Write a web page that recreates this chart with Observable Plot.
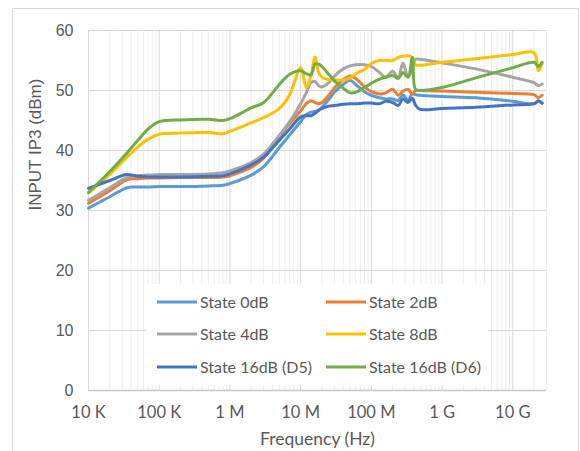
<!DOCTYPE html>
<html>
<head>
<meta charset="utf-8">
<script src="https://cdn.jsdelivr.net/npm/d3@7"></script>
<script src="https://cdn.jsdelivr.net/npm/@observablehq/plot@0.6"></script>
<style>
  html, body { margin: 0; padding: 0; background: #fff; }
</style>
</head>
<body>
<div id="chart"></div>
<script>
// Measurement frequencies (Hz)
const frequencies = [1e4, 2e4, 3.5e4, 5e4, 7e4, 1e5, 2e5, 5e5, 8e5, 1e6, 2e6, 3e6, 5e6, 7e6,
  1e7, 1.2e7, 1.4e7, 1.6e7, 1.8e7, 2e7, 2.5e7, 3e7, 4e7, 5e7, 6e7, 8e7,
  1e8, 1.3e8, 1.6e8, 2e8, 2.4e8, 2.8e8, 3.3e8, 3.8e8, 4.2e8, 4.8e8,
  1e9, 3e9, 1e10, 2e10, 2.3e10, 2.6e10];

// Input IP3 (dBm) per attenuation state
const state0dB = [30.4, 32.3, 33.8, 33.9, 33.9, 34.0, 34.0, 34.1, 34.2, 34.5, 35.9, 37.3, 40.5, 42.6,
  44.8, 46.0, 46.4, 46.5, 46.7, 47.2, 48.5, 49.7, 51.0, 51.7, 51.0, 49.8,
  49.2, 48.8, 48.6, 48.6, 48.3, 49.3, 48.4, 49.5, 49.3, 49.2,
  49.0, 48.8, 48.2, 47.8, 48.2, 47.9];
const state2dB = [31.2, 33.3, 35.1, 35.3, 35.4, 35.4, 35.5, 35.5, 35.6, 35.8, 37.2, 38.7, 42.3, 44.5,
  46.6, 47.8, 48.3, 48.0, 47.8, 48.0, 49.2, 50.4, 51.8, 52.4, 52.0, 50.6,
  49.8, 49.4, 49.6, 50.2, 49.2, 49.9, 50.2, 49.4, 50.0, 50.0,
  49.9, 49.7, 49.5, 49.3, 48.8, 49.2];
const state4dB = [31.7, 33.8, 35.5, 35.8, 35.9, 36.0, 36.0, 36.1, 36.3, 36.6, 38.0, 39.4, 42.5, 44.8,
  47.8, 49.6, 51.3, 51.5, 50.8, 50.6, 51.3, 52.4, 53.6, 54.1, 54.3, 54.3,
  54.0, 53.0, 52.2, 53.2, 52.2, 54.6, 52.3, 53.5, 55.2, 55.2,
  54.6, 53.6, 52.2, 51.3, 50.8, 51.1];
const state8dB = [32.9, 36.0, 38.9, 40.6, 41.9, 42.7, 42.9, 43.0, 42.8, 43.2, 44.6, 45.5, 47.0, 49.3,
  53.8, 50.5, 52.5, 55.6, 53.0, 52.2, 51.8, 51.8, 51.7, 52.1, 52.8, 53.5,
  54.5, 55.0, 55.0, 55.0, 55.5, 55.7, 55.8, 55.5, 54.3, 54.2,
  54.7, 55.3, 56.0, 56.3, 53.3, 54.5];
const state16dB_D5 = [33.7, 35.0, 36.0, 35.7, 35.6, 35.6, 35.6, 35.7, 35.8, 36.1, 37.6, 38.9, 41.7, 43.6,
  45.6, 45.8, 45.8, 46.2, 46.7, 47.0, 47.4, 47.5, 47.7, 47.8, 47.8, 47.9,
  47.9, 47.8, 48.2, 48.0, 47.5, 48.6, 48.0, 48.7, 47.6, 46.9,
  47.0, 47.2, 47.6, 47.8, 48.3, 47.9];
const state16dB_D6 = [33.0, 36.5, 39.6, 41.7, 43.6, 44.8, 45.1, 45.2, 45.0, 45.3, 47.1, 48.0, 51.0, 52.7,
  53.3, 52.8, 52.6, 54.4, 54.4, 54.0, 52.7, 51.6, 50.4, 49.6, 49.7, 50.5,
  51.2, 51.9, 52.2, 52.5, 52.0, 53.0, 52.2, 55.5, 50.2, 50.0,
  50.5, 52.1, 53.8, 54.7, 54.0, 54.7];

const seriesNames = ["State 0dB", "State 2dB", "State 4dB", "State 8dB", "State 16dB (D5)", "State 16dB (D6)"];
const seriesValues = [state0dB, state2dB, state4dB, state8dB, state16dB_D5, state16dB_D6];
const seriesColors = ["#5B9BD5", "#ED7D31", "#A5A5A5", "#FFC000", "#4472C4", "#70AD47"];

const xTicks = [1e4, 1e5, 1e6, 1e7, 1e8, 1e9, 1e10];
const xTickLabels = ["10 K", "100 K", "1 M", "10 M", "100 M", "1 G", "10 G"];
const yTicks = [0, 10, 20, 30, 40, 50, 60];

// long-format table for the line mark
const table = seriesValues.flatMap((vals, i) =>
  vals.map((v, j) => ({series: seriesNames[i], f: frequencies[j], v})));

// minor log gridlines (2..9 per decade) up to the 30 GHz edge
const minorTicks = [];
for (let e = 4; e <= 10; e++) for (let m = 2; m <= 9; m++) {
  const t = m * 10 ** e;
  if (t <= 3e10) minorTicks.push(t);
}

const W = 580, H = 451;
const mL = 88, mR = 34, mT = 30, mB = 61;
const labelFont = "Lato, 'Noto Sans', sans-serif";
const numFont = "'Liberation Sans', Arial, sans-serif";

const chart = Plot.plot({
  width: W, height: H,
  marginLeft: mL, marginRight: mR, marginTop: mT, marginBottom: mB,
  style: {background: "#fff", color: "#595959"},
  x: {type: "log", domain: [1e4, 3e10], axis: null},
  y: {domain: [0, 60], axis: null},
  color: {domain: seriesNames, range: seriesColors},
  marks: [
    Plot.ruleX(minorTicks, {stroke: "#efefef", strokeWidth: 1}),
    Plot.ruleX(xTicks, {stroke: "#d9d9d9", strokeWidth: 1}),
    Plot.ruleY(yTicks, {stroke: "#d9d9d9", strokeWidth: 1}),
    Plot.ruleY([0], {stroke: "#c8c8c8", strokeWidth: 1.5}),
    Plot.text(xTicks, {x: d => d, text: (d, i) => xTickLabels[i], frameAnchor: "bottom", dy: 22,
      fontSize: 16.5, fontFamily: labelFont, fill: "#595959", lineAnchor: "middle"}),
    Plot.text(yTicks, {y: d => d, text: d => String(d), frameAnchor: "left", dx: -15, textAnchor: "end",
      fontSize: 16, fontFamily: numFont, fill: "#595959"}),
    Plot.text(["Frequency (Hz)"], {frameAnchor: "bottom", dy: 49, fontSize: 17.5, fontFamily: labelFont,
      fill: "#595959", lineAnchor: "middle"}),
    Plot.text(["INPUT IP3 (dBm)"], {frameAnchor: "left", dx: -53, rotate: -90, fontSize: 17,
      fontFamily: numFont, fill: "#595959"}),
    Plot.line(table, {x: "f", y: "v", z: "series", stroke: "series", strokeWidth: 3,
      curve: "catmull-rom", strokeLinejoin: "round", strokeLinecap: "round"})
  ]
});

document.getElementById("chart").appendChild(chart);

// chart-area border and legend box
const svg = d3.select(chart);
svg.append("rect").attr("x", 12.5).attr("y", 8.5).attr("width", W - 14).attr("height", H + 10)
  .attr("fill", "none").attr("stroke", "#d9d9d9");

const legend = svg.append("g").attr("text-anchor", "start");
legend.append("rect").attr("x", 146).attr("y", 284).attr("width", 342).attr("height", 101).attr("fill", "#fff");
const cols = [157, 326], rows = [302, 334, 367];
seriesNames.forEach((name, i) => {
  const lx = cols[i % 2], ly = rows[Math.floor(i / 2)];
  legend.append("line").attr("x1", lx).attr("x2", lx + 40).attr("y1", ly).attr("y2", ly)
    .attr("stroke", seriesColors[i]).attr("stroke-width", 3);
  legend.append("text").attr("x", lx + 43).attr("y", ly).attr("dy", "0.35em")
    .attr("text-anchor", "start")
    .attr("font-family", labelFont).attr("font-size", 16).attr("fill", "#595959").text(name);
});
</script>
</body>
</html>
